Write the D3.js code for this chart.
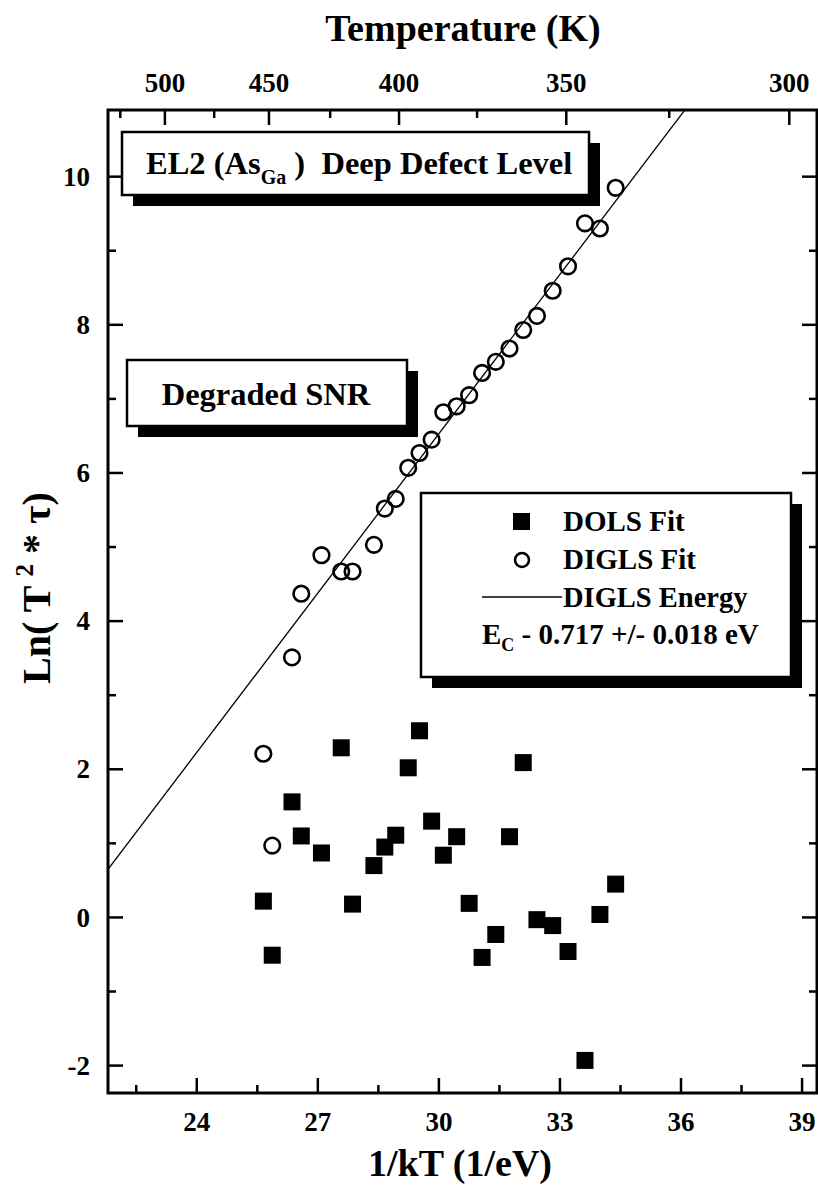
<!DOCTYPE html>
<html>
<head>
<meta charset="utf-8">
<script src="https://cdn.jsdelivr.net/npm/d3@7"></script>
<style>
  body { margin: 0; background: #fff; }
  svg { display: block; }
  text { font-family: "Liberation Serif", "Times New Roman", serif; font-weight: bold; fill: #000; }
</style>
</head>
<body>
<div id="chart"></div>
<script>
// 1/kT (1/eV) for each measured temperature (same x for both fits)
const invKT = [25.65, 25.87, 26.36, 26.59, 27.09, 27.58, 27.86, 28.39, 28.66, 28.93, 29.24, 29.52, 29.82,
               30.11, 30.44, 30.75, 31.07, 31.41, 31.75, 32.09, 32.43, 32.82, 33.2, 33.62, 33.99, 34.38];
// DIGLS fit, Ln(T^2*tau)
const digls = [2.21, 0.97, 3.51, 4.37, 4.89, 4.67, 4.67, 5.03, 5.52, 5.65, 6.07, 6.27, 6.45,
               6.82, 6.90, 7.05, 7.35, 7.50, 7.68, 7.93, 8.12, 8.46, 8.79, 9.37, 9.30, 9.85];
// DOLS fit, Ln(T^2*tau)
const dols = [0.22, -0.51, 1.56, 1.10, 0.87, 2.29, 0.18, 0.70, 0.95, 1.11, 2.02, 2.52, 1.30,
              0.84, 1.09, 0.19, -0.54, -0.23, 1.09, 2.09, -0.03, -0.11, -0.46, -1.93, 0.04, 0.45];
// DIGLS energy fit line: Ln = slope * (1/kT) + intercept
const energySlope = 0.717;
const energyIntercept = -14.98;

const xTicks = [24, 27, 30, 33, 36, 39];
const xMinor = [22.5, 25.5, 28.5, 31.5, 34.5, 37.5];
const yTicks = [-2, 0, 2, 4, 6, 8, 10];
const yMinor = [-1, 1, 3, 5, 7, 9];
const tempTicks = [500, 450, 400, 350, 300];
const tempMinor = [525, 475, 425, 375, 325];
const kB = 8.617e-5;

const W = 818, H = 1189;
const margin = { top: 110, right: 1, bottom: 96, left: 108 };
const width = W - margin.left - margin.right,
    height = H - margin.top - margin.bottom;

const svg = d3.select("#chart").append("svg")
    .attr("width", W)
    .attr("height", H);

const x = d3.scaleLinear().domain([21.8, 39.37]).range([0, width]);
const y = d3.scaleLinear().domain([-2.37, 10.9]).range([height, 0]);

const g = svg.append("g")
    .attr("transform", `translate(${margin.left}, ${margin.top})`);

g.append("clipPath").attr("id", "clip")
    .append("rect").attr("width", width).attr("height", height);

// tick marks, all pointing inward
function ticks(sel, vals, len, side) {
    sel.selectAll(null).data(vals).join("line")
        .attr("stroke", "#000").attr("stroke-width", 2.5)
        .each(function (v) {
            const l = d3.select(this);
            if (side === "bottom") l.attr("x1", x(v)).attr("x2", x(v)).attr("y1", height).attr("y2", height - len);
            if (side === "top") { const p = x(1 / (kB * v)); l.attr("x1", p).attr("x2", p).attr("y1", 0).attr("y2", len); }
            if (side === "left") l.attr("y1", y(v)).attr("y2", y(v)).attr("x1", 0).attr("x2", len);
            if (side === "right") l.attr("y1", y(v)).attr("y2", y(v)).attr("x1", width).attr("x2", width - len);
        });
}
const tg = g.append("g");
ticks(tg, xTicks, 15, "bottom");
ticks(tg, xMinor, 8, "bottom");
ticks(tg, tempTicks, 15, "top");
ticks(tg, tempMinor, 8, "top");
ticks(tg, yTicks, 15, "left");
ticks(tg, yMinor, 8, "left");
ticks(tg, yTicks, 15, "right");
ticks(tg, yMinor, 8, "right");

// frame
g.append("rect").attr("width", width).attr("height", height)
    .attr("fill", "none").attr("stroke", "#000").attr("stroke-width", 3);

// tick labels
g.selectAll(".xl").data(xTicks).join("text")
    .attr("x", d => x(d)).attr("y", height + 38)
    .attr("text-anchor", "middle").attr("font-size", 27).text(d => d);
g.selectAll(".tl").data(tempTicks).join("text")
    .attr("x", d => x(1 / (kB * d))).attr("y", -18)
    .attr("text-anchor", "middle").attr("font-size", 27).text(d => d);
g.selectAll(".yl").data(yTicks).join("text")
    .attr("x", -18).attr("y", d => y(d)).attr("dy", "0.34em")
    .attr("text-anchor", "end").attr("font-size", 27).text(d => d);

// axis titles
svg.append("text").attr("x", 463).attr("y", 41).attr("text-anchor", "middle")
    .attr("font-size", 38).text("Temperature (K)");
svg.append("text").attr("x", 460).attr("y", 1176).attr("text-anchor", "middle")
    .attr("font-size", 38).text("1/kT (1/eV)");
const yt = svg.append("text").attr("transform", "translate(50, 588) rotate(-90)")
    .attr("text-anchor", "middle").attr("font-size", 40);
yt.append("tspan").text("Ln( T ");
yt.append("tspan").attr("font-size", 25).attr("dy", -17).text("2");
yt.append("tspan").attr("dy", 17).text(" * τ)");

// annotation boxes with drop shadow
function shadowBox(x0, y0, w, h, off) {
    svg.append("rect").attr("x", x0 + off).attr("y", y0 + off).attr("width", w).attr("height", h).attr("fill", "#000");
    svg.append("rect").attr("x", x0).attr("y", y0).attr("width", w).attr("height", h)
        .attr("fill", "#fff").attr("stroke", "#000").attr("stroke-width", 2.5);
}
shadowBox(122, 132, 467, 63, 11);
const t1 = svg.append("text").attr("x", 146).attr("y", 174).attr("font-size", 32.5)
    .style("white-space", "pre");
t1.append("tspan").text("EL2 (As");
t1.append("tspan").attr("font-size", 20).attr("dy", 10).text("Ga");
t1.append("tspan").attr("dy", -10).text(" )  Deep Defect Level");

shadowBox(127, 360, 280, 66, 11);
svg.append("text").attr("x", 266).attr("y", 405).attr("text-anchor", "middle")
    .attr("font-size", 32.5).text("Degraded SNR");

// fit line
g.append("g").attr("clip-path", "url(#clip)").append("line")
    .attr("x1", x(21.8)).attr("y1", y(energySlope * 21.8 + energyIntercept))
    .attr("x2", x(39.37)).attr("y2", y(energySlope * 39.37 + energyIntercept))
    .attr("stroke", "#000").attr("stroke-width", 1.3);

// DIGLS open circles
g.selectAll(".c").data(invKT).join("circle")
    .attr("cx", d => x(d)).attr("cy", (d, i) => y(digls[i])).attr("r", 7.8)
    .attr("fill", "none").attr("stroke", "#000").attr("stroke-width", 2.6);

// DOLS filled squares
const s = 17;
g.selectAll(".s").data(invKT).join("rect")
    .attr("x", d => x(d) - s / 2).attr("y", (d, i) => y(dols[i]) - s / 2)
    .attr("width", s).attr("height", s).attr("fill", "#000");

// legend
shadowBox(421, 493, 370, 184, 11);
svg.append("rect").attr("x", 513).attr("y", 513).attr("width", 17).attr("height", 17).attr("fill", "#000");
svg.append("circle").attr("cx", 522).attr("cy", 560).attr("r", 7).attr("fill", "none")
    .attr("stroke", "#000").attr("stroke-width", 2.6);
svg.append("line").attr("x1", 482).attr("x2", 562).attr("y1", 597).attr("y2", 597)
    .attr("stroke", "#000").attr("stroke-width", 1.3);
svg.append("text").attr("x", 563).attr("y", 531).attr("font-size", 29).text("DOLS Fit");
svg.append("text").attr("x", 563).attr("y", 569).attr("font-size", 29).text("DIGLS Fit");
svg.append("text").attr("x", 563).attr("y", 607).attr("font-size", 28.5).text("DIGLS Energy");
const ec = svg.append("text").attr("x", 482).attr("y", 644).attr("font-size", 29);
ec.append("tspan").text("E");
ec.append("tspan").attr("font-size", 18).attr("dy", 7).text("C");
ec.append("tspan").attr("dy", -7).text(" - 0.717 +/- 0.018 eV");
</script>
</body>
</html>
